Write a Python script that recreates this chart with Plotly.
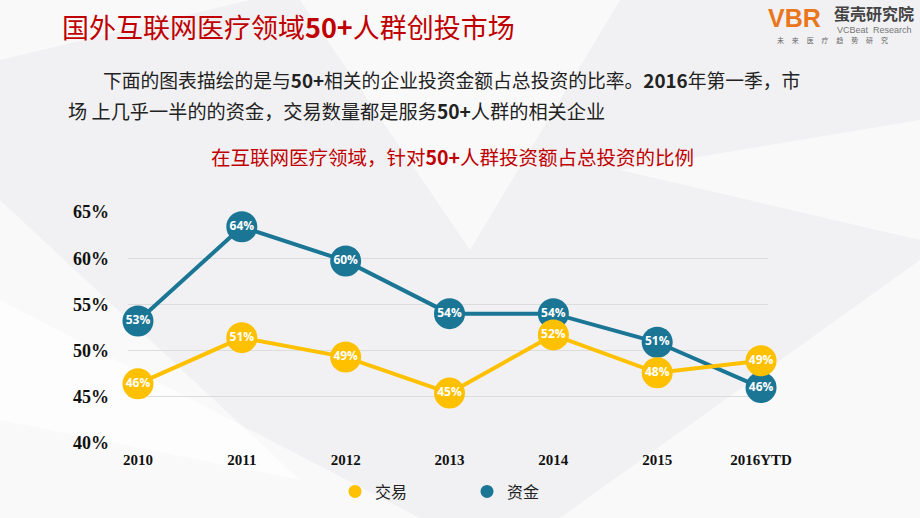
import plotly.graph_objects as go

years = ["2010", "2011", "2012", "2013", "2014", "2015", "2016YTD"]
deal_share = [46.4, 51.4, 49.3, 45.4, 51.7, 47.6, 48.9]
deal_labels = ["46%", "51%", "49%", "45%", "52%", "48%", "49%"]
fund_share = [53.2, 63.4, 59.7, 54.0, 54.0, 50.9, 46.0]
fund_labels = ["53%", "64%", "60%", "54%", "54%", "51%", "46%"]
y_ticks = [40, 45, 50, 55, 60, 65]

YELLOW = "#FFC000"
BLUE = "#1B7696"
RED = "#C00000"
xs = list(range(len(years)))

fig = go.Figure()

# blue first so the yellow circles sit on top, as in the picture
for vals, labels, color in [(fund_share, fund_labels, BLUE), (deal_share, deal_labels, YELLOW)]:
    fig.add_trace(go.Scatter(
        x=xs, y=vals, mode="lines+markers+text",
        text=labels, textposition="middle center",
        textfont=dict(family="Open Sans", size=12, color="white", weight="bold"),
        line=dict(color=color, width=4),
        marker=dict(size=31, color=color),
        showlegend=False, hoverinfo="skip", cliponaxis=False,
    ))

# legend-only entries
for name, color in [("交易", YELLOW), ("资金", BLUE)]:
    fig.add_trace(go.Scatter(
        x=[None], y=[None], mode="markers", name=name,
        marker=dict(size=13, color=color),
    ))

# plot area in pixels
L, R, T, B = 128, 152, 212, 75
pw, ph = 920 - L - R, 518 - T - B


def px_path(p):
    out = []
    tok = p.split()
    i = 0
    while i < len(tok):
        t = tok[i]
        if t in ("M", "L"):
            x = (float(tok[i + 1]) - L) / pw
            y = (518 - B - float(tok[i + 2])) / ph
            out.append(f"{t} {x:.4f} {y:.4f}")
            i += 3
        else:
            out.append(t)
            i += 1
    return " ".join(out)


# soft background facets
bg_shapes = [
    "M 0 518 L 0 300 L 420 518 Z",
    "M 300 0 L 620 0 L 470 250 Z",
    "M 560 518 L 920 260 L 920 518 Z",
    "M 0 60 L 250 0 L 0 0 Z",
    "M 620 170 L 920 120 L 920 240 Z",
    "M 0 200 L 300 480 L 0 420 Z",
]
shapes = [dict(type="path", path=px_path(p), xref="paper", yref="paper",
               fillcolor="rgba(255,255,255,0.6)", line=dict(width=0), layer="below")
          for p in bg_shapes]

gap = "&nbsp;" * 5
annotations = [
    dict(text="国外互联网医疗领域<b>50+</b>人群创投市场", x=60, y=27, font=dict(size=27, color=RED)),
    dict(text="下面的图表描绘的是与<b>50+</b>相关的企业投资金额占总投资的比率。<b>2016</b>年第一季，市",
         x=101, y=79, font=dict(size=18.8, color="#222")),
    dict(text="场 上几乎一半的的资金，交易数量都是服务<b>50+</b>人群的相关企业",
         x=66, y=111, font=dict(size=19.2, color="#222")),
    dict(text="在互联网医疗领域，针对<b>50+</b>人群投资额占总投资的比例", x=452, y=156,
         xanchor="center", font=dict(size=19.5, color=RED)),
    dict(text="<b>VBR</b>", x=766, y=18, font=dict(size=25, color="#E9771E", family="Liberation Sans")),
    dict(text="<b>蛋壳研究院</b>", x=832, y=13, font=dict(size=16, color="#444")),
    dict(text="VCBeat  Research", x=835, y=30, font=dict(size=9, color="#777", family="Liberation Sans")),
    dict(text=gap.join("未来医疗趋势研究"), x=775, y=40, font=dict(size=7, color="#666")),
]
for a in annotations:
    a.setdefault("xanchor", "left")
    a.update(xref="paper", yref="paper", yanchor="middle", showarrow=False)
    a["x"] = (a["x"] - L) / pw
    a["y"] = (518 - B - a["y"]) / ph

fig.update_layout(
    width=920, height=518,
    margin=dict(l=L, r=R, t=T, b=B, autoexpand=False),
    paper_bgcolor="#F1F1F3", plot_bgcolor="rgba(0,0,0,0)",
    font=dict(family="Noto Sans CJK SC", color="#222"),
    xaxis=dict(range=[-0.096, 6.067], tickvals=xs, ticktext=years, showgrid=False,
               zeroline=False, showline=False, ticks="", ticklabelstandoff=6,
               tickfont=dict(family="Liberation Serif", size=15, color="#111", weight="bold")),
    yaxis=dict(range=[40, 65], tickvals=y_ticks, ticktext=[f"{v}%" for v in y_ticks],
               showgrid=True, gridcolor="#DCDCDC", gridwidth=1, zeroline=False,
               ticks="", ticklabelstandoff=18,
               tickfont=dict(family="Liberation Serif", size=18, color="#111", weight="bold")),
    legend=dict(orientation="h", x=(335 - L) / pw, xanchor="left", y=-0.21, yanchor="middle",
                entrywidth=87, entrywidthmode="pixels", bgcolor="rgba(0,0,0,0)",
                font=dict(size=16, color="#222", family="Noto Sans CJK SC")),
    shapes=shapes,
    annotations=annotations,
)

# the page's default body margin would push the figure 8px off
fig.write_html("out.html", config={"displayModeBar": False},
               post_script="document.body.style.margin='0';")
